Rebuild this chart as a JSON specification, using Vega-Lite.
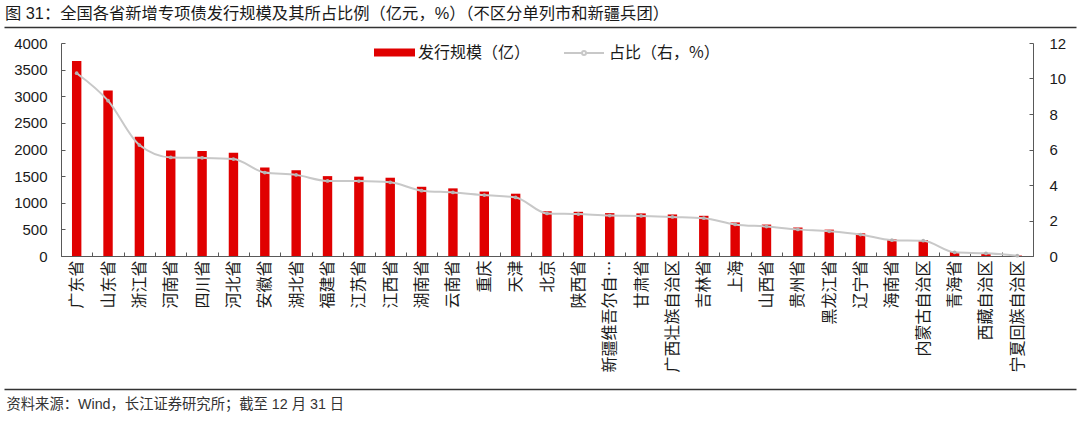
{
  "$schema": "https://vega.github.io/schema/vega-lite/v6.json",
  "width": 972,
  "height": 213,
  "autosize": "none",
  "padding": {"left": 61, "top": 43, "right": 47, "bottom": 168},
  "background": "white",
  "config": {
    "font": "Liberation Sans, Noto Sans CJK SC",
    "view": {"stroke": null}
  },
  "title": {
    "text": "图 31：全国各省新增专项债发行规模及其所占比例（亿元，%）（不区分单列市和新疆兵团）",
    "anchor": "start",
    "frame": "group",
    "dx": -56,
    "offset": 5,
    "fontSize": 16.3,
    "fontWeight": "normal",
    "color": "#1a1a1a",
    "font": "Liberation Sans, Noto Sans CJK SC"
  },
  "layer": [
    {
      "data": {
        "values": [
          {"name": "广东省", "value": 3660, "pct": 10.3},
          {"name": "山东省", "value": 3110, "pct": 8.75},
          {"name": "浙江省", "value": 2240, "pct": 6.25},
          {"name": "河南省", "value": 1980, "pct": 5.55},
          {"name": "四川省", "value": 1970, "pct": 5.53},
          {"name": "河北省", "value": 1940, "pct": 5.46},
          {"name": "安徽省", "value": 1660, "pct": 4.7},
          {"name": "湖北省", "value": 1610, "pct": 4.57},
          {"name": "福建省", "value": 1500, "pct": 4.23},
          {"name": "江苏省", "value": 1490, "pct": 4.22},
          {"name": "江西省", "value": 1470, "pct": 4.15},
          {"name": "湖南省", "value": 1300, "pct": 3.68},
          {"name": "云南省", "value": 1270, "pct": 3.58},
          {"name": "重庆", "value": 1210, "pct": 3.43},
          {"name": "天津", "value": 1170, "pct": 3.3},
          {"name": "北京", "value": 840, "pct": 2.4},
          {"name": "陕西省", "value": 830, "pct": 2.36},
          {"name": "新疆维吾尔自治区", "value": 805, "pct": 2.28},
          {"name": "甘肃省", "value": 800, "pct": 2.26},
          {"name": "广西壮族自治区", "value": 780, "pct": 2.2},
          {"name": "吉林省", "value": 755, "pct": 2.13},
          {"name": "上海", "value": 630, "pct": 1.78},
          {"name": "山西省", "value": 590, "pct": 1.66},
          {"name": "贵州省", "value": 535, "pct": 1.5},
          {"name": "黑龙江省", "value": 495, "pct": 1.39},
          {"name": "辽宁省", "value": 425, "pct": 1.21},
          {"name": "海南省", "value": 315, "pct": 0.89},
          {"name": "内蒙古自治区", "value": 300, "pct": 0.86},
          {"name": "青海省", "value": 75, "pct": 0.21},
          {"name": "西藏自治区", "value": 50, "pct": 0.15},
          {"name": "宁夏回族自治区", "value": 8, "pct": 0.02}
        ]
      },
      "layer": [
        {
          "mark": {"type": "bar", "width": {"band": 0.3}},
          "encoding": {
            "x": {
              "field": "name",
              "type": "nominal",
              "sort": null,
              "scale": {"paddingInner": 0, "paddingOuter": 0},
              "axis": {
                "orient": "bottom",
                "labelAngle": -90,
                "labelFont": "Noto Sans CJK SC",
                "labelFontSize": 16,
                "labelColor": "#1a1a1a",
                "labelLimit": 116,
                "labelPadding": 8,
                "tickBand": "extent",
                "tickSize": -4,
                "tickColor": "#595959",
                "domainColor": "#595959",
                "grid": false,
                "title": "资料来源：Wind，长江证券研究所；截至 12 月 31 日",
                "titleFont": "Liberation Sans, Noto Sans CJK SC",
                "titleFontSize": 14.3,
                "titleFontWeight": "normal",
                "titleColor": "#333333",
                "titleAnchor": "start",
                "titleAlign": "left",
                "titleBaseline": "middle",
                "titleX": -55,
                "titleY": 148
              }
            },
            "y": {
              "field": "value",
              "type": "quantitative",
              "scale": {"domain": [0, 4000], "nice": false},
              "axis": {
                "orient": "left",
                "values": [0, 500, 1000, 1500, 2000, 2500, 3000, 3500, 4000],
                "format": "d",
                "labelFontSize": 15,
                "labelFont": "Liberation Sans",
                "labelColor": "#1a1a1a",
                "labelPadding": 18,
                "tickSize": -4,
                "tickColor": "#595959",
                "domainColor": "#595959",
                "grid": false,
                "title": null
              }
            },
            "fill": {
              "datum": "发行规模（亿）",
              "scale": {"range": ["#E00000"]},
              "legend": {
                "orient": "none",
                "legendX": 313,
                "legendY": -11,
                "direction": "horizontal",
                "title": null,
                "padding": 0,
                "symbolType": "M-1,-0.2H1V0.2H-1Z",
                "symbolSize": 1681,
                "symbolStrokeWidth": 0,
                "labelFont": "Noto Sans CJK SC",
                "labelFontSize": 16,
                "labelColor": "#1a1a1a",
                "labelOffset": 3
              }
            }
          }
        },
        {
          "mark": {"type": "line", "interpolate": "monotone", "strokeWidth": 2},
          "encoding": {
            "x": {"field": "name", "type": "nominal", "sort": null},
            "y": {
              "field": "pct",
              "type": "quantitative",
              "scale": {"domain": [0, 12], "nice": false},
              "axis": {
                "orient": "right",
                "values": [0, 2, 4, 6, 8, 10, 12],
                "labelFontSize": 15,
                "labelFont": "Liberation Sans",
                "labelColor": "#1a1a1a",
                "labelPadding": 20,
                "tickSize": -4,
                "tickColor": "#595959",
                "domainColor": "#595959",
                "grid": false,
                "title": null
              }
            },
            "stroke": {
              "datum": "占比（右，%）",
              "scale": {"range": ["#C8C8C8"]},
              "legend": {
                "orient": "none",
                "legendX": 502,
                "legendY": -11,
                "direction": "horizontal",
                "title": null,
                "padding": 0,
                "symbolType": "M-1,0H-0.1M0.1,0H1M-0.1,0A0.1,0.1,0,1,0,0.1,0A0.1,0.1,0,1,0,-0.1,0",
                "symbolSize": 1600,
                "symbolStrokeWidth": 2,
                "labelFont": "Noto Sans CJK SC",
                "labelFontSize": 16,
                "labelColor": "#1a1a1a",
                "labelOffset": 4
              }
            }
          }
        },
        {
          "mark": {"type": "point", "filled": true, "size": 14, "color": "#B4B4B4", "opacity": 1},
          "encoding": {
            "x": {"field": "name", "type": "nominal", "sort": null},
            "y": {
              "field": "pct",
              "type": "quantitative",
              "scale": {"domain": [0, 12], "nice": false},
              "axis": null
            }
          }
        }
      ],
      "resolve": {"scale": {"y": "independent"}}
    },
    {
      "data": {"values": [{"d": 0}]},
      "mark": {"type": "point", "opacity": 0},
      "encoding": {
        "x": {
          "field": "d",
          "type": "quantitative",
          "scale": {"domain": [0, 1], "range": [-57, 1015]},
          "axis": {"orient": "top", "offset": 16, "domain": true, "domainColor": "#333333", "domainWidth": 1.5, "ticks": false, "labels": false, "grid": false, "title": null}
        }
      }
    },
    {
      "data": {"values": [{"d": 0}]},
      "mark": {"type": "point", "opacity": 0},
      "encoding": {
        "x": {
          "field": "d",
          "type": "quantitative",
          "scale": {"domain": [0, 1], "range": [-57, 1015]},
          "axis": {"orient": "bottom", "offset": 133, "domain": true, "domainColor": "#333333", "domainWidth": 1.5, "ticks": false, "labels": false, "grid": false, "title": null}
        }
      }
    }
  ],
  "resolve": {"scale": {"x": "independent"}}
}
